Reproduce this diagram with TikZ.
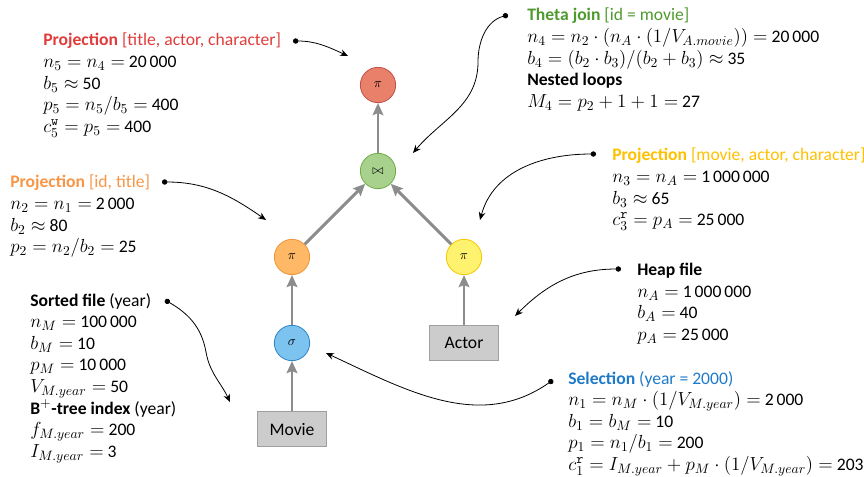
\RequirePackage{fix-cm}
\documentclass[tikz,border=0pt]{standalone}
\usepackage[no-math]{fontspec}
\usepackage{amsmath,amssymb}
\setmainfont{Carlito}
\DeclareMathSizes{13.2}{14.2}{10.2}{8}
\usetikzlibrary{arrows.meta}

\definecolor{redop}{HTML}{E8806A}
\definecolor{redline}{HTML}{C0504D}
\definecolor{greenop}{HTML}{A9D18E}
\definecolor{greenline}{HTML}{70AD47}
\definecolor{orangeop}{HTML}{FFB866}
\definecolor{orangeline}{HTML}{F0963C}
\definecolor{yellowop}{HTML}{FFF26E}
\definecolor{yellowline}{HTML}{F5C800}
\definecolor{blueop}{HTML}{7DC3EF}
\definecolor{blueline}{HTML}{2E86C8}
\definecolor{redtxt}{HTML}{E03C3C}
\definecolor{greentxt}{HTML}{4E9A2E}
\definecolor{orangetxt}{HTML}{F79646}
\definecolor{yellowtxt}{HTML}{FFC000}
\definecolor{bluetxt}{HTML}{1F7AC8}

\tikzset{
  op/.style={circle, draw, line width=0.6pt, minimum size=26.5pt, inner sep=0pt},
  rel/.style={rectangle, draw=gray!75, fill=gray!40, line width=0.6pt,
    minimum width=51.5pt, minimum height=26pt},
  flow/.style={-{Stealth[length=9pt,width=8pt,inset=1.5pt]}, gray!90, line width=2.2pt},
  note/.style={{Circle[length=4pt]}-{Stealth[length=6pt,width=5pt]}, line width=0.6pt},
  stats/.style={anchor=north west, align=left, inner sep=0pt,
    font=\fontsize{13.2}{16.2}\selectfont}
}

\begin{document}
\begin{tikzpicture}[x=0.75pt,y=-0.75pt]
   \useasboundingbox (0,0) rectangle (864,476);
   \lineskiplimit=-20pt
   % plan
   \node[op, fill=redop, draw=redline] (proj5) at (378,85) {$\pi$};
   \node[op, fill=greenop, draw=greenline] (join) at (378,171) {$\bowtie$};
   \node[op, fill=orangeop, draw=orangeline] (proj2) at (292,257) {$\pi$};
   \node[op, fill=yellowop, draw=yellowline] (proj3) at (464,257) {$\pi$};
   \node[op, fill=blueop, draw=blueline] (sel) at (292,343) {$\sigma$};
   \node[rel, font=\fontsize{13.2}{16}\selectfont] (movie) at (292,429) {Movie};
   \node[rel, font=\fontsize{13.2}{16}\selectfont] (actor) at (464,343) {Actor};
   \draw[flow] (movie)--(sel);
   \draw[flow] (sel)--(proj2);
   \draw[flow] (actor)--(proj3);
   \draw[flow] (proj2)--(join);
   \draw[flow] (proj3)--(join);
   \draw[flow] (join)--(proj5);
   % annotations
   \node[stats] (st5) at (43,33) {\textcolor{redtxt}{\textbf{Projection} [title, actor, character]}\\
     $n_5 = n_4 =$ 20\,000\\
     $b_5 \approx$ 50\\
     $p_5 = n_5/b_5 =$ 400\\
     $c_5^{\mathtt{w}} = p_5 =$ 400};
   \node[stats] (st4) at (527,8) {\textcolor{greentxt}{\textbf{Theta join} [id = movie]}\\
     $n_4 = n_2 \cdot (n_A \cdot (1/V_{A.movie})) =$ 20\,000\\
     $b_4 = (b_2 \cdot b_3)/(b_2 + b_3) \approx$ 35\\
     \textbf{Nested loops}\\
     $M_4 = p_2 + 1 + 1 =$ 27};
   \node[stats] (st2) at (10,175) {\textcolor{orangetxt}{\textbf{Projection} [id, title]}\\
     $n_2 = n_1 =$ 2\,000\\
     $b_2 \approx$ 80\\
     $p_2 = n_2/b_2 =$ 25};
   \node[stats] (st3) at (612,148) {\textcolor{yellowtxt}{\textbf{Projection} [movie, actor, character]}\\
     $n_3 = n_A =$ 1\,000\,000\\
     $b_3 \approx$ 65\\
     $c_3^{\mathtt{r}} = p_A =$ 25\,000};
   \node[stats] (stM) at (30,293) {\textbf{Sorted file} (year)\\
     $n_M =$ 100\,000\\
     $b_M =$ 10\\
     $p_M =$ 10\,000\\
     $V_{M.year} =$ 50\\
     \textbf{B$^+$-tree index} (year)\\
     $f_{M.year} =$ 200\\
     $I_{M.year} =$ 3};
   \node[stats] (stA) at (637,263) {\textbf{Heap file}\\
     $n_A =$ 1\,000\,000\\
     $b_A =$ 40\\
     $p_A =$ 25\,000};
   \node[stats] (st1) at (568,371) {\textcolor{bluetxt}{\textbf{Selection} (year = 2000)}\\
     $n_1 = n_M \cdot (1/V_{M.year}) =$ 2\,000\\
     $b_1 = b_M =$ 10\\
     $p_1 = n_1/b_1 =$ 200\\
     $c_1^{\mathtt{r}} = I_{M.year} + p_M \cdot (1/V_{M.year}) =$ 203};
   % pointers
   \coordinate (d5) at (293,41);   \coordinate (e5) at (348,56);
   \coordinate (d4) at (508,15);   \coordinate (m4) at (478,62);   \coordinate (e4) at (413,153);
   \coordinate (d2) at (162,182);  \coordinate (e2) at (266,220);
   \coordinate (d3) at (596,154);  \coordinate (e3) at (480,220);
   \coordinate (dM) at (165,300);  \coordinate (mM) at (206,352);  \coordinate (eM) at (230,402);
   \coordinate (dA) at (621,269);  \coordinate (eA) at (515,316);
   \coordinate (d1) at (553,380);  \coordinate (e1) at (326,353);
   \draw[note] (d5) to[out=0,in=155] (e5);
   \draw[note] (d4) to[out=195,in=90] (m4) to[out=-90,in=50] (e4);
   \draw[note] (d2) to[out=0,in=145] (e2);
   \draw[note] (d3) to[out=180,in=75] (e3);
   \draw[note] (dM) to[out=-30,in=100] (mM) to[out=-80,in=115] (eM);
   \draw[note] (dA) to[out=180,in=45] (eA);
   \draw[note] (d1) to[out=215,in=-25] (e1);
\end{tikzpicture}
\end{document}
